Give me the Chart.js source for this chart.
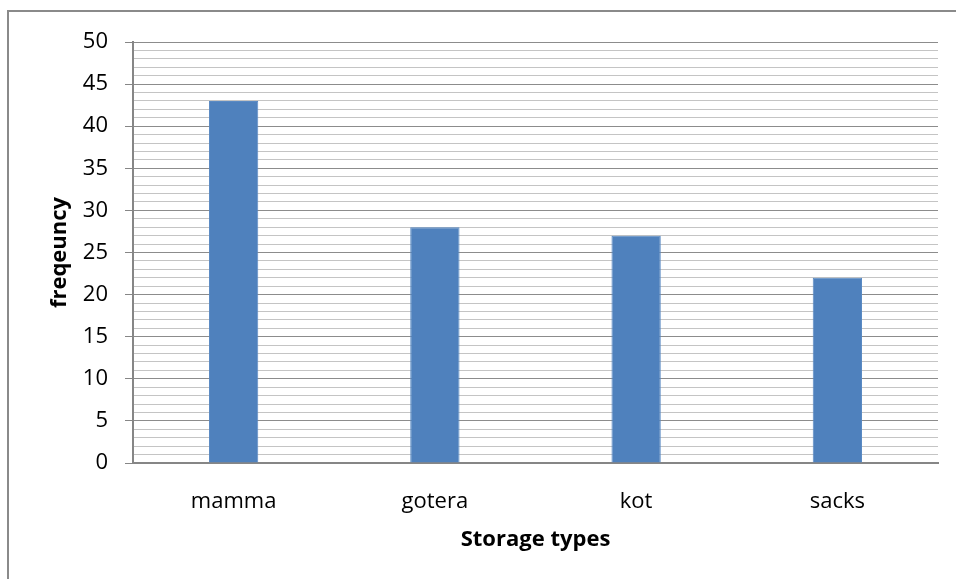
<!DOCTYPE html>
<html>
<head>
<meta charset="utf-8">
<script src="https://cdn.jsdelivr.net/npm/chart.js@4/dist/chart.umd.min.js"></script>
<style>
  html, body { margin: 0; padding: 0; background: #fff; }
  #wrap { width: 956px; height: 579px; position: relative; }
</style>
</head>
<body>
<div id="wrap"><canvas id="c" width="956" height="579"></canvas></div>
<script>
// Storage types and how often each was reported
const categories = ['mamma', 'gotera', 'kot', 'sacks'];
const frequency = [43, 28, 27, 22];
const yMin = 0;
const yMax = 50;
const yLabelStep = 5;

const FONT = "'Open Sans', 'Liberation Sans', sans-serif";

// Thin grey frame around the whole figure
const framePlugin = {
  id: 'frame',
  beforeDraw(chart) {
    const ctx = chart.ctx;
    ctx.save();
    ctx.fillStyle = '#ffffff';
    ctx.fillRect(0, 0, chart.width, chart.height);
    ctx.strokeStyle = '#8a8a8a';
    ctx.lineWidth = 2;
    ctx.strokeRect(8, 11, chart.width + 20, chart.height + 20);
    ctx.restore();
  }
};

const isMajor = v => v % yLabelStep === 0;

new Chart(document.getElementById('c'), {
  type: 'bar',
  data: {
    labels: categories,
    datasets: [{
      data: frequency,
      backgroundColor: '#4f81bd',
      borderColor: '#5a8ac4',
      borderWidth: 1,
      barPercentage: 0.245,
      categoryPercentage: 1
    }]
  },
  options: {
    responsive: false,
    animation: false,
    devicePixelRatio: 1,
    layout: { padding: { top: 42, right: 18, left: 43, bottom: 22 } },
    plugins: {
      legend: { display: false },
      tooltip: { enabled: false }
    },
    scales: {
      x: {
        grid: { display: false, drawTicks: false },
        border: { display: true, color: '#868686', width: 2 },
        ticks: {
          color: '#000',
          padding: 26,
          font: { family: FONT, size: 22 }
        },
        title: {
          display: true,
          text: 'Storage types',
          color: '#000',
          font: { family: FONT, size: 22, weight: 'bold' }
        },
        afterFit(scale) { scale.height = 94; }
      },
      y: {
        min: yMin,
        max: yMax,
        ticks: {
          stepSize: 1,
          autoSkip: false,
          padding: 17,
          color: '#000',
          font: { family: FONT, size: 22 },
          callback: v => (isMajor(v) ? String(v) : '')
        },
        grid: {
          color: c => (isMajor(c.tick.value) ? '#8c8c8c' : '#c4c4c4'),
          tickColor: c => (isMajor(c.tick.value) ? '#868686' : 'rgba(0,0,0,0)'),
          tickLength: 8,
          lineWidth: 1
        },
        border: { display: true, color: '#868686', width: 2 },
        title: {
          display: true,
          text: 'freqeuncy',
          color: '#000',
          font: { family: FONT, size: 22, weight: 'bold' }
        },
        afterFit(scale) { scale.width = 90; }
      }
    }
  },
  plugins: [framePlugin]
});
</script>
</body>
</html>
